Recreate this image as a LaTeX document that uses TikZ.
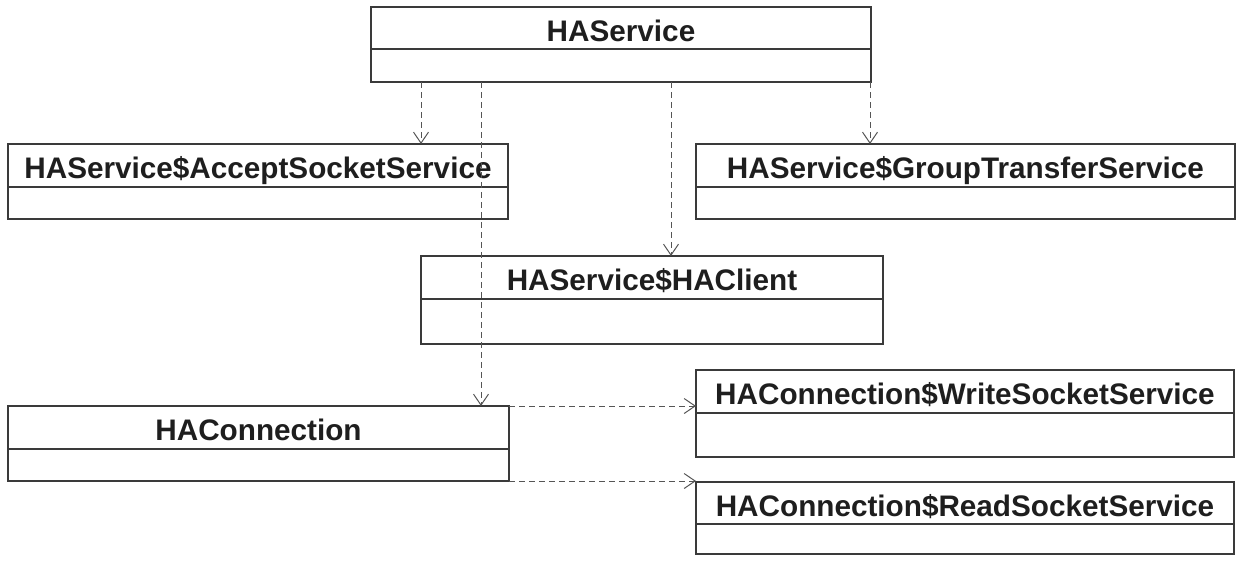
\documentclass[tikz,border=0pt]{standalone}
\usepackage{fontspec}
\setmainfont{Liberation Sans}
\usepackage{tikz}
\usetikzlibrary{arrows.meta}
\usetikzlibrary{positioning}

\definecolor{boxline}{HTML}{3A3A3A}
\definecolor{depline}{HTML}{555555}
\definecolor{clstext}{HTML}{1E1E1E}

\tikzset{
	cls/.style={draw=boxline,line width=1.3pt,rectangle,anchor=north west,inner sep=0pt,outer sep=0pt,
		text height=26pt,text depth=0pt,text=clstext,
		font=\fontsize{29.7}{34}\selectfont\bfseries},
	clsbody/.style={draw=boxline,line width=1.3pt,rectangle,inner sep=0pt,outer sep=0pt},
	dep/.style={draw=depline,line width=1pt,dash pattern=on 6pt off 4pt,
		-{Straight Barb[length=11pt,width=15pt,line width=1pt]}}
}

\begin{document}
\begin{tikzpicture}[x=1pt,y=-1pt]
		\useasboundingbox (0,0) rectangle (1245,565);

		\node [cls,minimum width=500pt,minimum height=42pt] (hasvc) at (371,7) {HAService};
		\node [clsbody,minimum width=500pt,minimum height=33pt,below=0pt of hasvc] (hasvc-b) {};

		\node [cls,minimum width=500pt,minimum height=43pt] (accept) at (8,144) {HAService\$AcceptSocketService};
		\node [clsbody,minimum width=500pt,minimum height=32pt,below=0pt of accept] (accept-b) {};

		\node [cls,minimum width=539pt,minimum height=43pt] (group) at (696,144) {HAService\$GroupTransferService};
		\node [clsbody,minimum width=539pt,minimum height=32pt,below=0pt of group] (group-b) {};

		\node [cls,minimum width=462pt,minimum height=43pt] (client) at (421,256) {HAService\$HAClient};
		\node [clsbody,minimum width=462pt,minimum height=45pt,below=0pt of client] (client-b) {};

		\node [cls,minimum width=501pt,minimum height=43pt] (conn) at (8,406) {HAConnection};
		\node [clsbody,minimum width=501pt,minimum height=32pt,below=0pt of conn] (conn-b) {};

		\node [cls,minimum width=538pt,minimum height=43pt] (write) at (696,370) {HAConnection\$WriteSocketService};
		\node [clsbody,minimum width=538pt,minimum height=44pt,below=0pt of write] (write-b) {};

		\node [cls,minimum width=538pt,minimum height=42pt] (read) at (696,482) {HAConnection\$ReadSocketService};
		\node [clsbody,minimum width=538pt,minimum height=30pt,below=0pt of read] (read-b) {};

		% dependencies of HAService
		\draw [dep] ([xshift=50pt]hasvc-b.south west) -- ([xshift=50pt]hasvc-b.south west |- accept.north);
		\draw [dep] ([xshift=110pt]hasvc-b.south west) -- ([xshift=110pt]hasvc-b.south west |- conn.north);
		\draw [dep] ([xshift=300pt]hasvc-b.south west) -- ([xshift=300pt]hasvc-b.south west |- client.north);
		\draw [dep] ([xshift=-1pt]hasvc-b.south east) -- ([xshift=-1pt]hasvc-b.south east |- group.north);

		% dependencies of HAConnection
		\draw [dep] (conn.north east) -- (conn.north east -| write.west);
		\draw [dep] (conn-b.south east) -- (conn-b.south east -| read.west);
	\end{tikzpicture}
\end{document}
